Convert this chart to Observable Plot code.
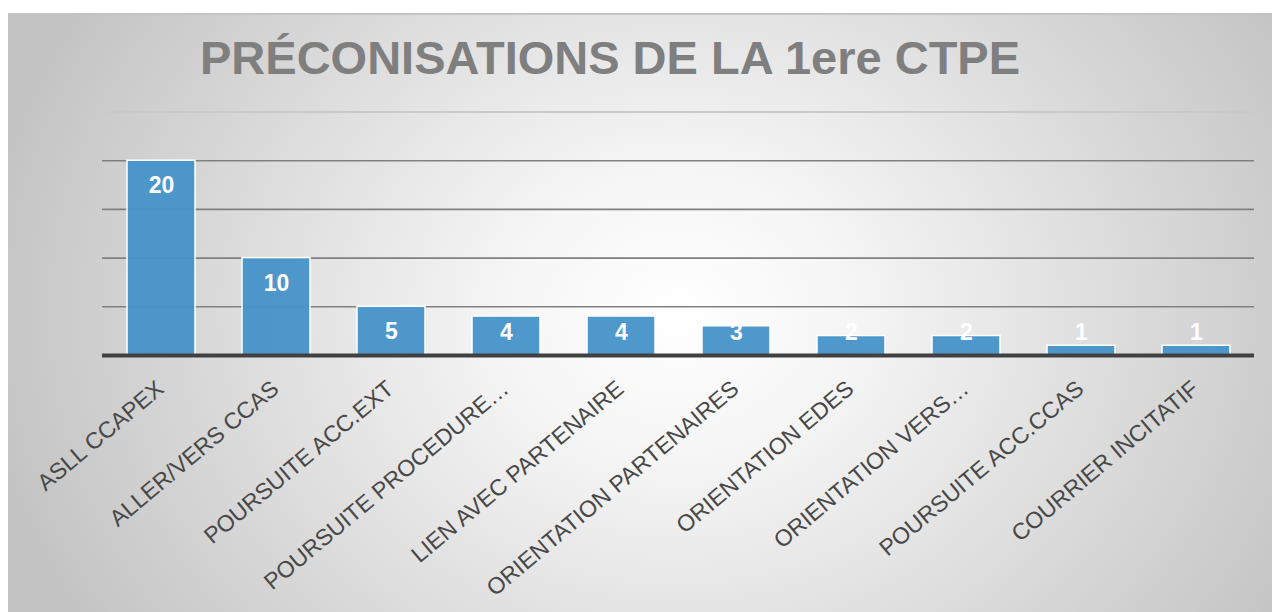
<!DOCTYPE html>
<html>
<head>
<meta charset="utf-8">
<script src="https://cdn.jsdelivr.net/npm/d3@7"></script>
<script src="https://cdn.jsdelivr.net/npm/@observablehq/plot@0.6"></script>
<style>
  html, body { margin: 0; padding: 0; background: #ffffff; }
  #wrap { position: relative; width: 1272px; height: 612px; overflow: hidden; }
  #panel {
    position: absolute; left: 8px; top: 13px; width: 1264px; height: 599px;
    border-top: 2px solid #c4c4c4; box-sizing: border-box;
    background: radial-gradient(ellipse 56% 100% at 53% 50%, #ffffff 0%, #f5f5f5 25%, #c3c3c3 100%);
  }
  #title {
    position: absolute; left: 200px; top: 34px; margin: 0;
    font-family: "Liberation Sans", Arial, sans-serif; font-weight: bold;
    font-size: 47px; line-height: 1; color: #7f7f7f; white-space: nowrap;
  }
  #chart { position: absolute; left: 0; top: 0; }
</style>
</head>
<body>
<div id="wrap">
  <div id="panel"></div>
  <div id="title">PRÉCONISATIONS DE LA 1ere CTPE</div>
  <div id="chart"></div>
</div>
<script>
const categories = [
  "ASLL CCAPEX",
  "ALLER/VERS CCAS",
  "POURSUITE ACC.EXT",
  "POURSUITE PROCEDURE…",
  "LIEN AVEC PARTENAIRE",
  "ORIENTATION PARTENAIRES",
  "ORIENTATION EDES",
  "ORIENTATION VERS…",
  "POURSUITE ACC.CCAS",
  "COURRIER INCITATIF"
];
const values = [20, 10, 5, 4, 4, 3, 2, 2, 1, 1];
const gridTicks = [5, 10, 15, 20];
const topTick = [25];

const data = categories.map((c, i) => ({cat: c, value: values[i]}));
const font = "Liberation Sans, Arial, sans-serif";

const chart = Plot.plot({
  width: 1272,
  height: 612,
  marginLeft: 102,
  marginRight: 18,
  marginTop: 111.5,
  marginBottom: 257,
  style: {background: "transparent", fontFamily: font, overflow: "visible"},
  x: {domain: categories, paddingInner: 0.41, paddingOuter: 0.205, axis: null},
  y: {domain: [0, 25], axis: null},
  marks: [
    Plot.ruleY(topTick, {stroke: "#c9c9c9", strokeWidth: 2}),
    Plot.ruleY(gridTicks, {stroke: "#808080", strokeWidth: 1.6}),
    Plot.barY(data, {x: "cat", y: "value", fill: "#4392c9", fillOpacity: 0.94, stroke: "#ffffff", strokeWidth: 1.5}),
    Plot.ruleY([0], {stroke: "#404040", strokeWidth: 4}),
    Plot.text(data, {
      x: "cat",
      y: d => Math.max(d.value - 2.6, 2.3),
      text: d => String(d.value),
      fill: "#ffffff",
      fontWeight: "bold",
      fontSize: 23,
      lineAnchor: "middle"
    }),
    Plot.text(data, {
      x: "cat",
      frameAnchor: "bottom",
      text: "cat",
      rotate: -40,
      textAnchor: "end",
      lineAnchor: "middle",
      dx: -1,
      dy: 30,
      fontSize: 23,
      fill: "#484848"
    })
  ]
});
document.getElementById("chart").appendChild(chart);
</script>
</body>
</html>
